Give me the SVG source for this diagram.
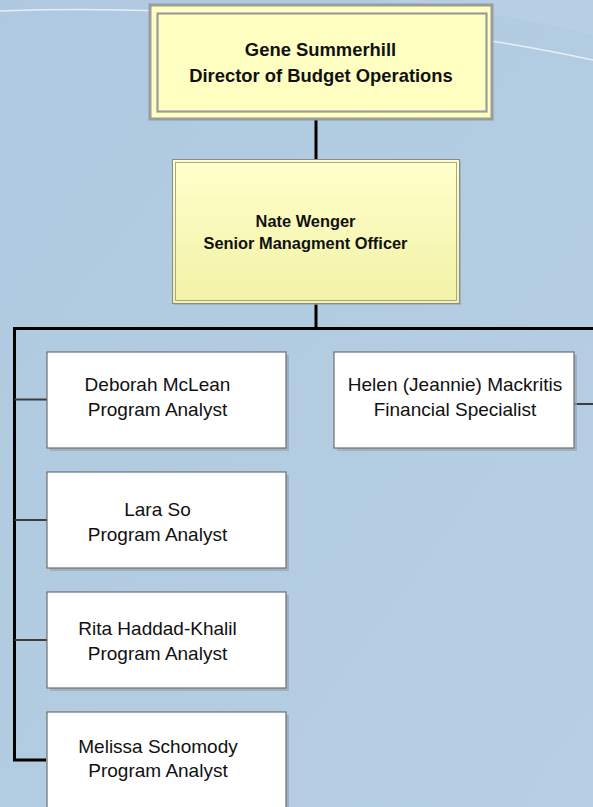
<svg xmlns="http://www.w3.org/2000/svg" width="593" height="807" viewBox="0 0 593 807">
  <defs>
    <linearGradient id="bg" x1="0" y1="0" x2="1" y2="1">
      <stop offset="0" stop-color="#AFC9E0"/>
      <stop offset="1" stop-color="#B6CFE4"/>
    </linearGradient>
    <linearGradient id="mgr" x1="0" y1="0" x2="0" y2="1">
      <stop offset="0" stop-color="#FFFFCC"/>
      <stop offset="1" stop-color="#F2F2A6"/>
    </linearGradient>
    <style>
      .t-reg { font-family: "Liberation Sans", Arial, sans-serif; font-size: 19px; fill: #111; text-anchor: middle; }
      .t-top { font-family: "Liberation Sans", Arial, sans-serif; font-size: 18.4px; font-weight: bold; fill: #111; text-anchor: middle; }
      .t-mgr { font-family: "Liberation Sans", Arial, sans-serif; font-size: 16.4px; font-weight: bold; fill: #111; text-anchor: middle; }
      .box { fill: #FFFFFF; stroke: #6E6E6E; stroke-width: 1.2; }
      .shadow { fill: #97A6B4; opacity: 0.7; }
      .main { stroke: #000; stroke-width: 3; fill: none; }
      .branch { stroke: #3C3C3C; stroke-width: 2; fill: none; }
    </style>
  </defs>

  <!-- background -->
  <rect x="0" y="0" width="593" height="807" fill="url(#bg)"/>
  <path d="M380,0 C470,8 540,22 593,35 L593,0 Z" fill="#FFFFFF" opacity="0.07"/>
  <path d="M0,11 C160,5 400,18 593,60" fill="none" stroke="#FFFFFF" stroke-width="1.5" opacity="0.7"/>

  <!-- connectors -->
  <g id="connectors">
    <line class="main" x1="316" y1="120" x2="316" y2="160"/>
    <line class="main" x1="316" y1="304" x2="316" y2="329"/>
    <polyline class="main" points="593,328.5 14.5,328.5 14.5,760 46,760"/>
    <line class="branch" x1="14.5" y1="399.5" x2="47" y2="399.5"/>
    <line class="branch" x1="14.5" y1="520" x2="47" y2="520"/>
    <line class="branch" x1="14.5" y1="640" x2="47" y2="640"/>
    <line class="branch" x1="574" y1="404" x2="593" y2="404"/>
  </g>

  <!-- top node -->
  <g id="gene-summerhill">
    <rect x="150" y="5" width="342" height="114" fill="#FFFFC2" stroke="#9C9C9C" stroke-width="3"/>
    <rect x="157.5" y="13.5" width="329" height="98" fill="none" stroke="#9C9C9C" stroke-width="2.2"/>
    <text class="t-top" x="320.5" y="56">Gene Summerhill</text>
    <text class="t-top" x="321" y="81.5">Director of Budget Operations</text>
  </g>

  <!-- manager node -->
  <g id="nate-wenger">
    <rect x="174" y="161" width="287" height="144" class="shadow"/>
    <rect x="172.5" y="159.5" width="287" height="144" fill="url(#mgr)" stroke="#8A8A8A" stroke-width="1"/>
    <rect x="175.5" y="162.5" width="281" height="138" fill="none" stroke="#A8A890" stroke-width="1"/>
    <text class="t-mgr" x="305.5" y="226.5">Nate Wenger</text>
    <text class="t-mgr" x="305.5" y="248.5">Senior Managment Officer</text>
  </g>

  <!-- staff nodes -->
  <g id="deborah-mclean">
    <rect x="50" y="355" width="239" height="96" class="shadow"/>
    <rect x="47" y="352" width="239" height="96" class="box"/>
    <text class="t-reg" x="157.5" y="390.5">Deborah McLean</text>
    <text class="t-reg" x="157.5" y="415.5">Program Analyst</text>
  </g>

  <g id="helen-mackritis">
    <rect x="337" y="355" width="240" height="96" class="shadow"/>
    <rect x="334" y="352" width="240" height="96" class="box"/>
    <text class="t-reg" x="455" y="390.5">Helen (Jeannie) Mackritis</text>
    <text class="t-reg" x="455" y="415.5">Financial Specialist</text>
  </g>

  <g id="lara-so">
    <rect x="50" y="475" width="239" height="96" class="shadow"/>
    <rect x="47" y="472" width="239" height="96" class="box"/>
    <text class="t-reg" x="157.5" y="515.5">Lara So</text>
    <text class="t-reg" x="157.5" y="540.5">Program Analyst</text>
  </g>

  <g id="rita-haddad-khalil">
    <rect x="50" y="595" width="239" height="96" class="shadow"/>
    <rect x="47" y="592" width="239" height="96" class="box"/>
    <text class="t-reg" x="157.5" y="634.5">Rita Haddad-Khalil</text>
    <text class="t-reg" x="157.5" y="659.5">Program Analyst</text>
  </g>

  <g id="melissa-schomody">
    <rect x="50" y="715" width="239" height="100" class="shadow"/>
    <rect x="47" y="712" width="239" height="100" class="box"/>
    <text class="t-reg" x="158" y="752.5">Melissa Schomody</text>
    <text class="t-reg" x="158" y="776.5">Program Analyst</text>
  </g>
</svg>
